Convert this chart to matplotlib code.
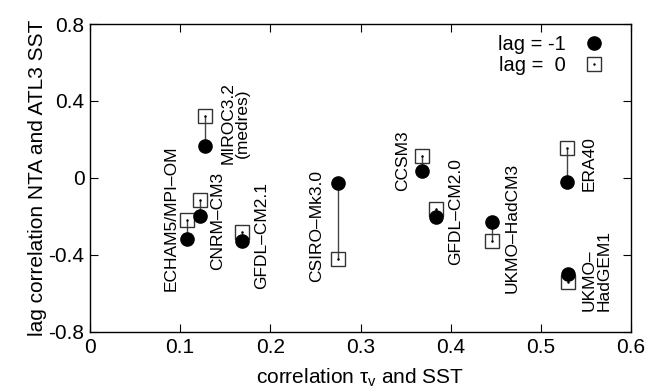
import numpy as np
import matplotlib
matplotlib.use("Agg")
import matplotlib.pyplot as plt

plt.rcParams['font.family'] = ['Liberation Sans', 'DejaVu Sans']
plt.rcParams['mathtext.fontset'] = 'custom'
plt.rcParams['mathtext.rm'] = 'Liberation Sans'
plt.rcParams['mathtext.it'] = 'Liberation Sans:italic'
plt.rcParams['axes.unicode_minus'] = False

# modelli e correlazioni
models = ["ECHAM5/MPI\u2013OM", "CNRM\u2013CM3", "MIROC3.2\n(medres)", "GFDL\u2013CM2.1",
          "CSIRO\u2013Mk3.0", "CCSM3", "GFDL\u2013CM2.0", "UKMO\u2013HadCM3",
          "ERA40", "UKMO\u2013\nHadGEM1"]
corr_tau = [0.108, 0.122, 0.127, 0.169, 0.275, 0.368, 0.384, 0.446, 0.529, 0.530]
lag_m1 = [-0.317, -0.197, 0.166, -0.326, -0.028, 0.038, -0.204, -0.227, -0.019, -0.499]
lag_0 = [-0.220, -0.114, 0.322, -0.279, -0.420, 0.114, -0.159, -0.326, 0.154, -0.539]

# posizione etichette (centro x, bordo alto y)
lab_x = [0.0895, 0.141, 0.161, 0.190, 0.251, 0.347, 0.405, 0.4676, 0.553, 0.562]
lab_y = [0.171, 0.033, 0.499, -0.019, 0.042, 0.249, 0.102, 0.076, 0.218, -0.270]
lab_align = ["center"] * 9 + ["left"]

fig = plt.figure(figsize=(6.65, 3.91), dpi=100)
ax = fig.add_axes([0.1353, 0.151, 0.8137, 0.7876])

for i in range(len(models)):
    ax.plot([corr_tau[i], corr_tau[i]], [lag_m1[i], lag_0[i]], color="#444444", lw=1, zorder=1)

h1, = ax.plot(corr_tau, lag_m1, "o", color="black", ms=9.5, ls="none", zorder=3)
h0, = ax.plot(corr_tau, lag_0, "s", mfc="none", mec="#333333", mew=1, ms=10, ls="none", zorder=2)
hd, = ax.plot(corr_tau, lag_0, ".", color="black", ms=1.5, ls="none", zorder=2)

for i in range(len(models)):
    ax.text(lab_x[i], lab_y[i], models[i], rotation=90, ha="center", va="top",
            multialignment=lab_align[i], fontsize=12.5, linespacing=0.95)

ax.set_xlim(0, 0.6)
ax.set_ylim(-0.8, 0.8)
ax.set_xticks([0, 0.1, 0.2, 0.3, 0.4, 0.5, 0.6])
ax.set_xticklabels(["0", "0.1", "0.2", "0.3", "0.4", "0.5", "0.6"])
ax.set_yticks([-0.8, -0.4, 0, 0.4, 0.8])
ax.set_yticklabels(["-0.8", "-0.4", "0", "0.4", "0.8"])
ax.tick_params(direction="in", top=True, right=True, length=6, labelsize=15, pad=4)
for s in ax.spines.values():
    s.set_linewidth(1)

ax.set_xlabel("correlation \u03c4$_{\\rm v}$ and SST", fontsize=15, labelpad=7)
ax.set_ylabel("lag correlation NTA and ATL3 SST", fontsize=15, labelpad=1)

ax.legend([h1, (h0, hd)], ["lag = -1", "lag =  0"], loc="upper right",
          bbox_to_anchor=(0.976, 1.01), markerfirst=False, frameon=False, fontsize=14.5,
          handlelength=1.0, handletextpad=0.9, labelspacing=0.1, borderaxespad=0.3)

fig.savefig("out.png", dpi=100)
